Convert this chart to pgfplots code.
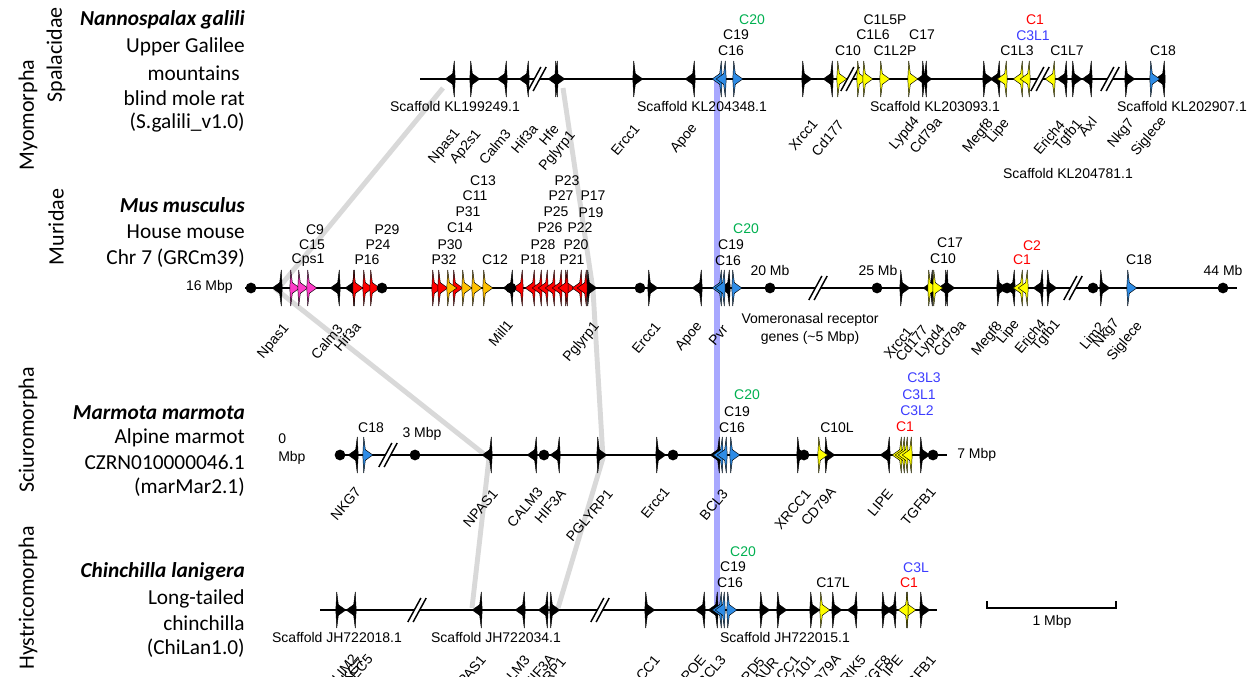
\documentclass[border=0pt]{standalone}
\usepackage{pgfplots}
\pgfplotsset{compat=1.18}
\usepackage{fontspec}
\setmainfont{Liberation Sans}
\newfontfamily\carl{Carlito}
\definecolor{gyel}{HTML}{FFFF00}
\definecolor{gblu}{HTML}{2E8CE6}
\definecolor{gred}{HTML}{FF0000}
\definecolor{gora}{HTML}{FFC000}
\definecolor{gmag}{HTML}{FF3CC8}
\definecolor{tgreen}{HTML}{00B050}
\definecolor{tblue}{HTML}{3C3CFF}
\definecolor{synt}{HTML}{D9D9D9}
\definecolor{band}{HTML}{A8A8FF}
% right-pointing gene arrow
\pgfdeclareplotmark{gR}{%
 \pgfpathmoveto{\pgfqpoint{-3.2pt}{13.5pt}}%
 \pgfpathlineto{\pgfqpoint{-2.0pt}{4pt}}%
 \pgfpathlineto{\pgfqpoint{3.6pt}{0pt}}%
 \pgfpathlineto{\pgfqpoint{-2.0pt}{-4pt}}%
 \pgfpathlineto{\pgfqpoint{-3.2pt}{-13.5pt}}%
 \pgfpathlineto{\pgfqpoint{-3.9pt}{0pt}}%
 \pgfpathclose\pgfusepathqfillstroke}
% left-pointing gene arrow
\pgfdeclareplotmark{gL}{%
 \pgfpathmoveto{\pgfqpoint{3.2pt}{13.5pt}}%
 \pgfpathlineto{\pgfqpoint{2.0pt}{4pt}}%
 \pgfpathlineto{\pgfqpoint{-3.6pt}{0pt}}%
 \pgfpathlineto{\pgfqpoint{2.0pt}{-4pt}}%
 \pgfpathlineto{\pgfqpoint{3.2pt}{-13.5pt}}%
 \pgfpathlineto{\pgfqpoint{3.9pt}{0pt}}%
 \pgfpathclose\pgfusepathqfillstroke}
% break mark //
\pgfdeclareplotmark{brk}{%
 \pgfpathmoveto{\pgfqpoint{-6.9pt}{-9pt}}%
 \pgfpathlineto{\pgfqpoint{2.9pt}{9pt}}%
 \pgfpathlineto{\pgfqpoint{6.9pt}{9pt}}%
 \pgfpathlineto{\pgfqpoint{-2.9pt}{-9pt}}%
 \pgfpathclose
 \pgfsetfillcolor{white}\pgfusepathqfill
 \pgfpathmoveto{\pgfqpoint{-6.9pt}{-9pt}}\pgfpathlineto{\pgfqpoint{2.9pt}{9pt}}%
 \pgfpathmoveto{\pgfqpoint{-2.9pt}{-9pt}}\pgfpathlineto{\pgfqpoint{6.9pt}{9pt}}%
 \pgfusepathqstroke}
\newcommand{\genes}[3]{\addplot[only marks, mark=#1, mark options={solid, draw=black, fill=#2, line width=0.35pt}] coordinates {#3};}
\begin{document}
\begin{tikzpicture}[
 lab/.style={font=\fontsize{10.5}{12}\selectfont, inner sep=0pt},
 rl/.style={lab, rotate=50, anchor=east},
 sp/.style={font=\fontsize{16}{18}\selectfont\carl, anchor=east, inner sep=0pt},
 cl/.style={font=\fontsize{16.5}{18}\selectfont\carl, rotate=90, inner sep=0pt}]
\begin{axis}[x=0.75pt, y=0.75pt, y dir=reverse, xmin=0, xmax=1257, ymin=0, ymax=677,
 hide axis, clip=false]
% synteny lines
\addplot[synt, line width=3.7pt] coordinates {(443,88) (277,290) (489,458) (472,608)};
\addplot[synt, line width=3.7pt] coordinates {(563,88) (593,290) (603,458) (558,608)};
% blue band
\addplot[band, line width=4.5pt] coordinates {(717,79) (717,612)};
% chromosome lines
\addplot[black, line width=1.8pt] coordinates {(420,79) (1162,79)};
\addplot[black, line width=1.8pt] coordinates {(245,288) (1237,288)};
\addplot[black, line width=1.8pt] coordinates {(335,455) (947,455)};
\addplot[black, line width=1.8pt] coordinates {(320,610) (937,610)};
% scale bar
\addplot[black, line width=1.4pt] coordinates {(987,601) (987,608) (1116,608) (1116,601)};
% breaks
\addplot[only marks, mark=brk, mark options={solid, draw=black, line width=1.1pt}] coordinates {(537,79) (850,79) (1040,79) (1110,79) (818,288) (1073,288) (388,455) (417,610) (600,610)};
% ---- Row 1
\genes{gR}{black}{(475,79) (560,79) (638,79) (807,79) (927,79) (988,79) (1077,79) (1130,79)}
\genes{gL}{black}{(450,79) (502,79) (524,79) (553,79) (690,79) (828,79) (922,79) (995,79) (1062,79) (1087,79) (1160,79)}
\genes{gL}{gblu}{(717,79) (721,79)}
\genes{gR}{gblu}{(738,79) (1155,79)}
\genes{gR}{gyel}{(842,79) (862,79) (868,79) (885,79) (913,79)}
\genes{gL}{gyel}{(1002,79) (1018,79) (1025,79) (1050,79)}
% ---- Row 2
\genes{gL}{black}{(277,288) (335,288) (350,288) (508,288) (697,288) (725,288) (928,288) (943,288) (1010,288) (1038,288)}
\genes{gR}{black}{(592,288) (653,288) (905,288) (950,288) (1002,288) (1052,288) (1105,288)}
\genes{gR}{gmag}{(295,288) (303,288) (312,288)}
\genes{gR}{gred}{(358,288) (368,288) (375,288) (437,288) (443,288) (458,288) (570,288)}
\genes{gR}{gora}{(452,288) (467,288) (477,288) (488,288)}
\genes{gL}{gred}{(518,288) (530,288) (537,288) (543,288) (550,288) (557,288) (563,288) (577,288) (582,288)}
\genes{gL}{gblu}{(717,288) (720,288)}
\genes{gR}{gblu}{(737,288) (1132,288)}
\genes{gR}{gyel}{(933,288) (938,288)}
\genes{gL}{gyel}{(1018,288) (1023,288)}
% ---- Row 3
\genes{gL}{black}{(353,455) (487,455) (532,455) (555,455) (715,455) (885,455)}
\genes{gR}{black}{(602,455) (661,455) (802,455) (830,455) (925,455)}
\genes{gR}{gblu}{(368,455) (735,455)}
\genes{gL}{gblu}{(718,455) (722,455)}
\genes{gR}{gyel}{(823,455)}
\genes{gL}{gyel}{(897,455) (900,455) (903,455) (907,455)}
% ---- Row 4
\genes{gR}{black}{(341,610) (555,610) (650,610) (765,610) (782,610) (815,610) (837,610) (887,610) (925,610)}
\genes{gL}{black}{(351,610) (477,610) (520,610) (543,610) (700,610) (713,610) (852,610) (891,610)}
\genes{gL}{gblu}{(717,610) (720,610)}
\genes{gR}{gblu}{(732,610)}
\genes{gR}{gyel}{(825,610) (911,610)}
\genes{gL}{gyel}{(903,610)}
% dots
\addplot[only marks, mark=*, mark size=3.8pt, mark options={solid, fill=black, draw=black}] coordinates {(251,288) (382,288) (511,288) (640,288) (770,288) (877,288) (1007,288) (1093,288) (1223,288) (340,455) (415,455) (544,455) (673,455) (804,455) (933,455)};

% ===== Left labels
\node[cl] at (28,115) {Myomorpha};
\node[cl] at (56,55) {Spalacidae};
\node[cl] at (56,227) {Muridae};
\node[cl] at (28,430) {Sciuromorpha};
\node[cl] at (28,598) {Hystricomorpha};
\node[sp] at (245,20) {\bfseries\itshape Nannospalax galili};
\node[sp] at (245,47) {Upper Galilee};
\node[sp] at (240,73) {mountains};
\node[sp] at (245,98) {blind mole rat};
\node[sp] at (245,123) {(S.galili\_v1.0)};
\node[sp] at (245,205) {\bfseries\itshape Mus musculus};
\node[sp] at (245,232) {House mouse};
\node[sp] at (245,258) {Chr 7 (GRCm39)};
\node[sp] at (245,413) {\bfseries\itshape Marmota marmota};
\node[sp] at (245,438) {Alpine marmot};
\node[sp] at (245,462) {CZRN010000046.1};
\node[sp] at (245,487) {(marMar2.1)};
\node[sp] at (245,572) {\bfseries\itshape Chinchilla lanigera};
\node[sp] at (245,599) {Long-tailed};
\node[sp] at (245,623) {chinchilla};
\node[sp] at (245,648) {(ChiLan1.0)};

% ===== Row 1 labels
\node[lab, text=tgreen] at (752,20) {C20};
\node[lab] at (736,35) {C19};
\node[lab] at (731,51) {C16};
\node[lab] at (885,20) {C1L5P};
\node[lab] at (873,35) {C1L6};
\node[lab] at (922,35) {C17};
\node[lab] at (848,51) {C10};
\node[lab] at (895,51) {C1L2P};
\node[lab, text=gred] at (1035,20) {C1};
\node[lab, text=tblue] at (1033,36) {C3L1};
\node[lab] at (1017,51) {C1L3};
\node[lab] at (1067,51) {C1L7};
\node[lab] at (1163,51) {C18};
\node[lab] at (455,106) {Scaffold KL199249.1};
\node[lab] at (702,106) {Scaffold KL204348.1};
\node[lab] at (935,106) {Scaffold KL203093.1};
\node[lab] at (1182,106) {Scaffold KL202907.1};
\node[lab] at (1068,173) {Scaffold KL204781.1};
\node[rl] at (458,131) {Npas1};
\node[rl] at (479,132) {Ap2s1};
\node[rl] at (508,131) {Calm3};
\node[rl] at (535,126) {Hif3a};
\node[rl] at (556,126) {Hfe};
\node[rl] at (573,133) {Pglyrp1};
\node[rl] at (637,126) {Ercc1};
\node[rl] at (695,126) {Apoe};
\node[rl] at (815,121) {Xrcc1};
\node[rl] at (841,122) {Cd177};
\node[rl] at (917,119) {Lypd4};
\node[rl] at (939,119) {Cd79a};
\node[rl] at (991,121) {Megf8};
\node[rl] at (1007,121) {Lipe};
\node[rl] at (1062,122) {Erich4};
\node[rl] at (1080,122) {Tgfb1};
\node[rl] at (1094,119) {Axl};
\node[rl] at (1132,121) {Nkg7};
\node[rl] at (1164,119) {Siglece};

% ===== Row 2 labels
\node[lab] at (315,230) {C9};
\node[lab] at (312,245) {C15};
\node[lab] at (308,260) {Cps1};
\node[lab] at (387,230) {P29};
\node[lab] at (378,245) {P24};
\node[lab] at (367,260) {P16};
\node[lab] at (483,181) {C13};
\node[lab] at (475,196) {C11};
\node[lab] at (468,212) {P31};
\node[lab] at (460,228) {C14};
\node[lab] at (450,245) {P30};
\node[lab] at (444,260) {P32};
\node[lab] at (495,260) {C12};
\node[lab] at (533,260) {P18};
\node[lab] at (543,245) {P28};
\node[lab] at (550,228) {P26};
\node[lab] at (556,212) {P25};
\node[lab] at (561,196) {P27};
\node[lab] at (567,181) {P23};
\node[lab] at (593,196) {P17};
\node[lab] at (591,213) {P19};
\node[lab] at (580,228) {P22};
\node[lab] at (576,245) {P20};
\node[lab] at (572,260) {P21};
\node[lab, text=tgreen] at (746,229) {C20};
\node[lab] at (731,245) {C19};
\node[lab] at (728,261) {C16};
\node[lab] at (950,243) {C17};
\node[lab] at (943,259) {C10};
\node[lab, text=gred] at (1032,246) {C2};
\node[lab, text=gred] at (1022,260) {C1};
\node[lab] at (1139,260) {C18};
\node[lab, anchor=east] at (233,287) {16 Mbp};
\node[lab] at (770,270) {20 Mb};
\node[lab] at (878,270) {25 Mb};
\node[lab] at (1223,270) {44 Mb};
\node[lab, align=center, font=\fontsize{10.5}{13.5}\selectfont] at (810,329) {Vomeronasal receptor\\genes (\textasciitilde5 Mbp)};
\node[rl] at (287,326) {Npas1};
\node[rl] at (340,326) {Calm3};
\node[rl] at (358,324) {Hif3a};
\node[rl] at (510,322) {Mill1};
\node[rl] at (597,324) {Pglyrp1};
\node[rl] at (658,324) {Ercc1};
\node[rl] at (700,324) {Apoe};
\node[rl] at (725,327) {Pvr};
\node[rl] at (910,329) {Xrcc1};
\node[rl] at (925,327) {Cd177};
\node[rl] at (943,327) {Lypd4};
\node[rl] at (963,322) {Cd79a};
\node[rl] at (1000,324) {Megf8};
\node[rl] at (1017,322) {Lipe};
\node[rl] at (1043,321) {Erich4};
\node[rl] at (1058,322) {Tgfb1};
\node[rl] at (1102,324) {Lim2};
\node[rl] at (1117,321) {Nkg7};
\node[rl] at (1140,324) {Siglece};

% ===== Row 3 labels
\node[lab] at (371,428) {C18};
\node[lab] at (422,434) {3 Mbp};
\node[lab, anchor=west, align=left, font=\fontsize{10.5}{14}\selectfont] at (278,449) {0\\Mbp};
\node[lab, anchor=west] at (957,455) {7 Mbp};
\node[lab, text=tgreen] at (747,395) {C20};
\node[lab] at (737,412) {C19};
\node[lab] at (732,428) {C16};
\node[lab] at (837,428) {C10L};
\node[lab, text=gred] at (905,427) {C1};
\node[lab, text=tblue] at (917,411) {C3L2};
\node[lab, text=tblue] at (919,395) {C3L1};
\node[lab, text=tblue] at (924,378) {C3L3};
\node[rl] at (358,489) {NKG7};
\node[rl] at (495,491) {NPAS1};
\node[rl] at (540,489) {CALM3};
\node[rl] at (563,491) {HIF3A};
\node[rl] at (610,491) {PGLYRP1};
\node[rl] at (667,489) {Ercc1};
\node[rl] at (725,491) {BCL3};
\node[rl] at (808,491) {XRCC1};
\node[rl] at (833,489) {CD79A};
\node[rl] at (890,491) {LIPE};
\node[rl] at (933,489) {TGFB1};

% ===== Row 4 labels
\node[lab, text=tgreen] at (743,552) {C20};
\node[lab] at (733,567) {C19};
\node[lab] at (730,583) {C16};
\node[lab] at (833,583) {C17L};
\node[lab, text=gred] at (909,583) {C1};
\node[lab, text=tblue] at (916,568) {C3L};
\node[lab] at (337,637) {Scaffold JH722018.1};
\node[lab] at (496,637) {Scaffold JH722034.1};
\node[lab] at (785,637) {Scaffold JH722015.1};
\node[lab] at (1052,622) {1 Mbp};
\node[rl] at (355,656) {LIM2};
\node[rl] at (362,659) {NKG7};
\node[rl] at (370,656) {SIGLEC5};
\node[rl] at (483,657) {NPAS1};
\node[rl] at (527,657) {CALM3};
\node[rl] at (552,656) {HIF3A};
\node[rl] at (563,659) {PGLYRP1};
\node[rl] at (657,657) {ERCC1};
\node[rl] at (703,657) {APOE};
\node[rl] at (723,657) {BCL3};
\node[rl] at (762,659) {LYPD5};
\node[rl] at (776,659) {PLAUR};
\node[rl] at (797,657) {XRCC1};
\node[rl] at (813,657) {TEX101};
\node[rl] at (838,656) {CD79A};
\node[rl] at (863,657) {GRIK5};
\node[rl] at (888,657) {MEGF8};
\node[rl] at (900,657) {LIPE};
\node[rl] at (933,657) {TGFB1};
\end{axis}
\pgfresetboundingbox
\useasboundingbox (current axis.south west) rectangle (current axis.north east);
\end{tikzpicture}
\end{document}
